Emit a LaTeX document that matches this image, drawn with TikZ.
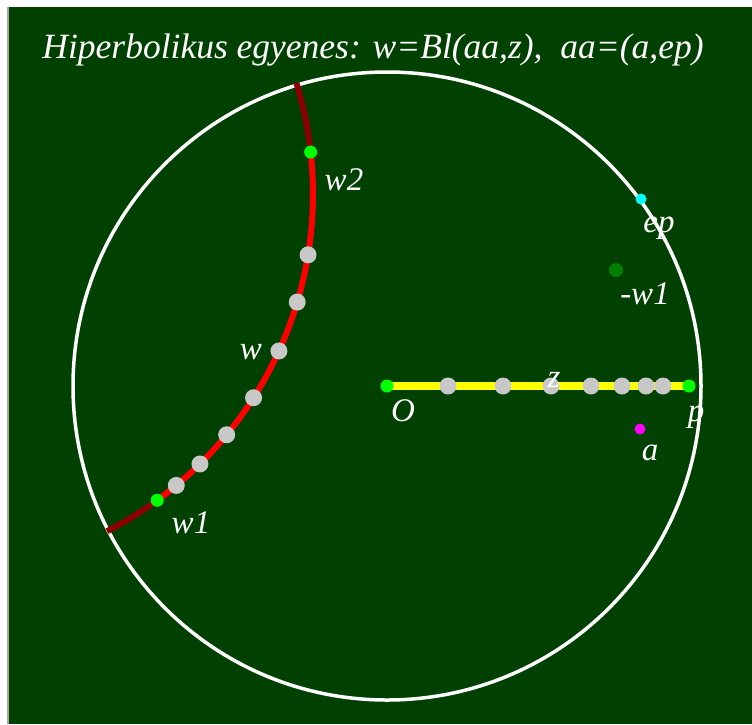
\documentclass[tikz,border=0pt]{standalone}
\usepackage{fontspec}
\setmainfont{Liberation Serif}
\definecolor{diskbg}{RGB}{0,64,0}
\definecolor{geored}{RGB}{255,0,0}
\definecolor{geodark}{RGB}{140,0,0}
\definecolor{ptgray}{RGB}{200,200,200}
\definecolor{ptgreen}{RGB}{0,255,0}
\definecolor{ptdark}{RGB}{0,128,0}
\definecolor{ptcyan}{RGB}{0,255,255}
\definecolor{ptmagenta}{RGB}{255,0,255}
\definecolor{segyellow}{RGB}{255,255,0}

\begin{document}
\begin{tikzpicture}[x=1pt,y=-1pt,
    pnt/.style 2 args={circle,fill=#1,inner sep=0pt,minimum size=#2},
    lbl/.style={text=white,inner sep=0pt,font=\fontsize{33}{36}\selectfont\itshape}]
  \useasboundingbox (0,0) rectangle (752,724);
  \fill[white] (0,0) rectangle (752,724);
  \fill[gray!70] (7,7) rectangle (9,724);
  \fill[diskbg] (9,7) rectangle (752,724);
  \node[lbl,font=\fontsize{35.5}{38}\selectfont\itshape] (title) at (373,50) {Hiperbolikus egyenes: w=Bl(aa,z),~ aa=(a,ep)};
  \draw[white,line width=3.5pt] (387,386) circle (314);
  \draw[geodark,line width=6pt] plot[domain=-17.05:-6.36,samples=12] ({-66+379*cos(\x)},{194+379*sin(\x)});
  \draw[geodark,line width=6pt] plot[domain=53.92:62.83,samples=12] ({-66+379*cos(\x)},{194+379*sin(\x)});
  \draw[geored,line width=6pt] plot[domain=-6.36:53.92,samples=60] ({-66+379*cos(\x)},{194+379*sin(\x)});
  \coordinate (O) at (387,386);
  \coordinate (P) at (689,386);
  \draw[segyellow,line width=8pt] (O) -- (P);
  \foreach \x [count=\i] in {448,503,551,591,622,646,663}
    \node[pnt={ptgray}{17pt}] (s\i) at (\x,386) {};
  \foreach \t [count=\i] in {9.24,16.57,24.47,32.52,39.44,45.43,50.26}
    \node[pnt={ptgray}{17pt}] (g\i) at ({-66+379*cos(\t)},{194+379*sin(\t)}) {};
  \node[pnt={ptgreen}{13pt}] (o) at (O) {};
  \node[pnt={ptgreen}{13pt}] (p) at (P) {};
  \node[pnt={ptgreen}{13pt}] (w1) at ({-66+379*cos(53.92)},{194+379*sin(53.92)}) {};
  \node[pnt={ptgreen}{13pt}] (w2) at ({-66+379*cos(-6.36)},{194+379*sin(-6.36)}) {};
  \node[pnt={ptcyan}{11pt}] (ep) at (641,199) {};
  \node[pnt={ptdark}{14pt}] (mw1) at (616,270) {};
  \node[pnt={ptmagenta}{11pt}] (a) at (640,429) {};
  \node[lbl] (lw2) at (344,180) {w2};
  \node[lbl] (lw) at (251,352) {w};
  \node[lbl] (lw1) at (191,523) {w1};
  \node[lbl] (lep) at (659,228) {ep};
  \node[lbl] (lmw1) at (645,294) {-w1};
  \node[lbl] (lo) at (403,411) {O};
  \node[lbl] (lz) at (554,380) {z};
  \node[lbl] (lp) at (696,417) {p};
  \node[lbl] (la) at (650,453) {a};
\end{tikzpicture}
\end{document}
